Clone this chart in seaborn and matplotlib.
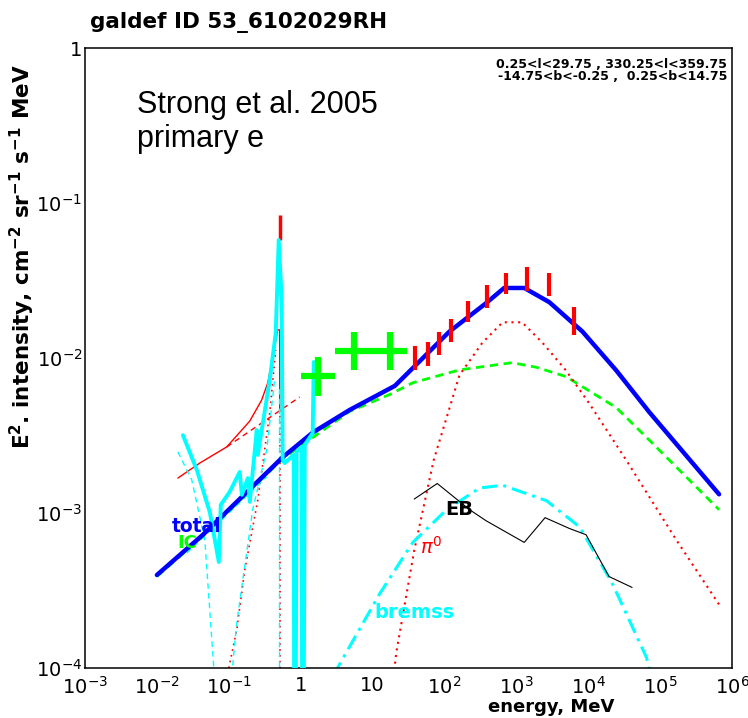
import matplotlib
matplotlib.use("Agg")
import matplotlib.pyplot as plt
import seaborn as sns
from matplotlib.ticker import FixedLocator, LogLocator, NullFormatter

# ---- model curves (energy in MeV, E^2 intensity) ----
total_e = [0.01, 0.0437, 0.562, 1.48, 4.79, 20.4, 36.3, 117, 380, 676, 1290, 2880, 8320, 24500, 70800, 661000]
total_i = [3.98e-4, 7.24e-4, 2.29e-3, 3.31e-3, 4.62e-3, 6.61e-3, 8.61e-3, 0.0148, 0.0226, 0.0283,
           0.0283, 0.0229, 0.0148, 8.32e-3, 4.47e-3, 1.32e-3]

ic_e = [0.01, 0.0437, 0.562, 4.79, 17.4, 36.3, 162, 871, 1905, 4900, 24500, 70800, 661000]
ic_i = [3.89e-4, 7.08e-4, 2.24e-3, 4.52e-3, 5.82e-3, 6.92e-3, 8.38e-3, 9.33e-3, 8.71e-3, 7.59e-3,
        4.79e-3, 2.95e-3, 1.05e-3]

pi0_e = [19.1, 21.4, 38.0, 70.8, 162, 339, 646, 1202, 2291, 4898, 10233, 33884, 165959, 660693]
pi0_i = [7.94e-5, 1.26e-4, 5.75e-4, 2.19e-3, 7.76e-3, 0.0126, 0.0170, 0.0170, 0.0126, 8.32e-3,
         5.13e-3, 2.19e-3, 6.76e-4, 2.57e-4]

bremss_e = [2.82, 12.6, 36.3, 107, 309, 646, 2630, 7590, 21380, 64570, 74130]
bremss_i = [8.91e-5, 3.02e-4, 6.46e-4, 1.05e-3, 1.45e-3, 1.51e-3, 1.20e-3, 8.13e-4, 3.55e-4, 1.17e-4, 8.91e-5]

eb_e = [38.0, 79.4, 224, 380, 1288, 2512, 5495, 9333, 19498, 40738]
eb_i = [1.23e-3, 1.55e-3, 1.05e-3, 8.91e-4, 6.46e-4, 9.33e-4, 7.94e-4, 7.24e-4, 3.89e-4, 3.31e-4]

# ---- low energy (positron / line) components ----
spi_e = [0.0230, 0.0360, 0.0545, 0.0727, 0.0774, 0.103, 0.142, 0.152, 0.184, 0.196, 0.245, 0.253,
         0.371, 0.450, 0.495, 0.545, 0.562, 0.599, 0.800, 0.825, 0.880, 1.03, 1.066, 1.14, 1.47, 1.52]
spi_i = [3.18e-3, 1.89e-3, 1.01e-3, 4.83e-4, 1.13e-3, 1.37e-3, 1.84e-3, 1.31e-3, 1.68e-3, 1.18e-3,
         3.43e-3, 2.37e-3, 7.21e-3, 0.0145, 0.0577, 0.0237, 2.20e-3, 2.10e-3, 2.37e-3, 1e-6,
         2.48e-3, 2.67e-3, 1e-6, 2.75e-3, 3.28e-3, 9.42e-3]

line_e = [0.0196, 0.0395, 0.0938, 0.196, 0.287, 0.348, 0.408, 0.480, 0.511, 0.511]
line_i = [1.68e-3, 2.10e-3, 2.67e-3, 3.92e-3, 5.36e-3, 6.90e-3, 0.0100, 0.0152, 0.0152, 4.62e-3]
line_dash_e = [0.0938, 0.968]
line_dash_i = [2.67e-3, 5.60e-3]
line_dot_e = [0.100, 0.129, 0.167, 0.253, 0.371, 0.45]
line_dot_i = [1e-4, 1.76e-4, 4.29e-4, 1.21e-3, 4.42e-3, 0.0113]
line_dot2_e = [0.511, 0.511]
line_dot2_i = [5e-5, 4.6e-3]

cyan_a_e = [0.0196, 0.0306, 0.0464, 0.0619, 0.066]
cyan_a_i = [2.48e-3, 1.63e-3, 6.70e-4, 1e-4, 4.5e-5]
cyan_b_e = [0.110, 0.129, 0.215, 0.337, 0.435]
cyan_b_i = [9e-5, 1.95e-4, 1.05e-3, 2.55e-3, 7.21e-3]
cyan_c_e = [0.50, 0.50]
cyan_c_i = [5e-5, 6.5e-3]
cyan_d_e = [0.0261, 0.337]
cyan_d_i = [5.52e-4, 1.71e-3]

# ---- data points ----
egret_e = [38.7, 59.2, 83.7, 122, 212, 387, 707, 1414, 2828, 6325]
egret_lo = [8.32e-3, 8.91e-3, 0.0105, 0.0126, 0.0170, 0.0209, 0.0257, 0.0269, 0.0251, 0.0141]
egret_hi = [0.0120, 0.0126, 0.0148, 0.0178, 0.0234, 0.0295, 0.0355, 0.0389, 0.0355, 0.0214]

line511_e = [0.511]
line511_lo = [0.0577]
line511_hi = [0.0837]

comptel_e = [1.73, 5.48, 17.3]
comptel_emin = [1, 3, 10]
comptel_emax = [3, 10, 30]
comptel_i = [7.65e-3, 0.0111, 0.0111]
comptel_lo = [5.69e-3, 8.32e-3, 8.32e-3]
comptel_hi = [0.0102, 0.0148, 0.0148]

x_ticks = [1e-3, 1e-2, 1e-1, 1, 10, 1e2, 1e3, 1e4, 1e5, 1e6]
x_labels = ['$10^{-3}$', '$10^{-2}$', '$10^{-1}$', '1', '10', '$10^{2}$', '$10^{3}$', '$10^{4}$', '$10^{5}$', '$10^{6}$']
y_ticks = [1e-4, 1e-3, 1e-2, 1e-1, 1]
y_labels = ['$10^{-4}$', '$10^{-3}$', '$10^{-2}$', '$10^{-1}$', '1']

BLUE = '#0000ff'
GREEN = '#00ff00'
RED = '#ff0000'
CYAN = '#00ffff'


def line(ax, x, y, **kw):
    sns.lineplot(x=x, y=y, ax=ax, sort=False, estimator=None, **kw)


sns.set_style("white")
plt.rcParams['font.family'] = ['DejaVu Sans']
plt.rcParams['mathtext.fontset'] = 'dejavusans'
plt.rcParams['text.color'] = 'black'
plt.rcParams['xtick.color'] = 'black'
plt.rcParams['ytick.color'] = 'black'

fig = plt.figure(figsize=(7.48, 7.18), dpi=100)
ax = fig.add_axes([85 / 748, 50 / 718, 647 / 748, 620 / 718])
ax.set_xscale('log')
ax.set_yscale('log')

# low energy line components
line(ax, line_e, line_i, color=RED, lw=1.0, zorder=2)
line(ax, line_dash_e, line_dash_i, color=RED, lw=1.0, linestyle=(0, (4, 3)), zorder=2)
line(ax, line_dot_e, line_dot_i, color=RED, lw=1.2, linestyle=(0, (1, 2.5)), zorder=2)
line(ax, line_dot2_e, line_dot2_i, color=RED, lw=1.2, linestyle=(0, (1, 2.5)), zorder=2)
for cx, cy in [(cyan_a_e, cyan_a_i), (cyan_b_e, cyan_b_i), (cyan_c_e, cyan_c_i), (cyan_d_e, cyan_d_i)]:
    line(ax, cx, cy, color=CYAN, lw=1.0, linestyle=(0, (4, 3)), zorder=2)

# model components
line(ax, ic_e, ic_i, color=GREEN, lw=2.0, linestyle=(0, (3, 2)), zorder=2)
line(ax, pi0_e, pi0_i, color=RED, lw=1.5, linestyle=(0, (1, 2.2)), zorder=2)
line(ax, bremss_e, bremss_i, color=CYAN, lw=2.2, linestyle=(0, (5, 2, 1, 2)), zorder=2)
line(ax, eb_e, eb_i, color='black', lw=0.8, zorder=2)
line(ax, total_e, total_i, color=BLUE, lw=3.2, zorder=3)
line(ax, spi_e, spi_i, color=CYAN, lw=2.8, zorder=4)

# data
ax.vlines(line511_e, line511_lo, line511_hi, color=RED, lw=2.5, zorder=3)
ax.vlines(egret_e, egret_lo, egret_hi, color=RED, lw=3.0, zorder=5)
ax.vlines(comptel_e, comptel_lo, comptel_hi, color=GREEN, lw=4.5, zorder=5)
ax.hlines(comptel_i, comptel_emin, comptel_emax, color=GREEN, lw=4.5, zorder=5)

ax.set_xlim(1e-3, 1e6)
ax.set_ylim(1e-4, 1)
ax.xaxis.set_major_locator(FixedLocator(x_ticks))
ax.set_xticklabels(x_labels)
ax.yaxis.set_major_locator(FixedLocator(y_ticks))
ax.set_yticklabels(y_labels)
ax.xaxis.set_minor_locator(LogLocator(base=10, subs=range(2, 10), numticks=20))
ax.yaxis.set_minor_locator(LogLocator(base=10, subs=range(2, 10), numticks=20))
ax.xaxis.set_minor_formatter(NullFormatter())
ax.yaxis.set_minor_formatter(NullFormatter())
ax.tick_params(which='both', direction='in', top=False, right=False, width=1.0, color='black',
               labelsize=14, labelcolor='black')
ax.tick_params(which='major', length=13)
ax.tick_params(which='minor', length=6.5)
ax.tick_params(axis='x', pad=6)
ax.tick_params(axis='y', pad=2)
for s in ax.spines.values():
    s.set_color('black')
    s.set_linewidth(1.1)
    s.set_visible(True)

# labels in plot
ax.text(0.158, 0.202, 'IC', color=GREEN, fontsize=13, fontweight='bold', ha='center', va='center',
        transform=ax.transAxes, zorder=3)
ax.text(0.172, 0.228, 'total', color=BLUE, fontsize=13.5, fontweight='bold', ha='center', va='center',
        transform=ax.transAxes, zorder=6)
ax.text(0.578, 0.255, 'EB', color='black', fontsize=14, fontweight='bold', ha='center', va='center',
        transform=ax.transAxes, zorder=6)
ax.text(0.535, 0.195, r'$\pi^{0}$', color=RED, fontsize=14, ha='center', va='center',
        transform=ax.transAxes, zorder=6)
ax.text(0.509, 0.090, 'bremss', color=CYAN, fontsize=14, fontweight='bold', ha='center', va='center',
        transform=ax.transAxes, zorder=6)
ax.text(0.0804, 0.895, 'Strong et al. 2005', fontsize=22, family='Liberation Sans', ha='left',
        va='baseline', transform=ax.transAxes)
ax.text(0.0804, 0.840, 'primary e', fontsize=22, family='Liberation Sans', ha='left',
        va='baseline', transform=ax.transAxes)

fig.text(90 / 748, 1 - 28 / 718, 'galdef ID 53_6102029RH', fontsize=15.5, fontweight='bold',
         ha='left', va='baseline')
fig.text(727 / 748, 1 - 65 / 718, '0.25<l<29.75 , 330.25<l<359.75', fontsize=9, fontweight='bold',
         ha='right', va='center')
fig.text(727 / 748, 1 - 77 / 718, '-14.75<b<-0.25 ,  0.25<b<14.75', fontsize=9, fontweight='bold',
         ha='right', va='center')
fig.text(22 / 748, 1 - 257 / 718,
         r'E$^{\mathbf{2}}$. intensity, cm$^{\mathbf{-2}}$ sr$^{\mathbf{-1}}$ s$^{\mathbf{-1}}$ MeV',
         fontsize=15.5, fontweight='bold', rotation=90, ha='center', va='center')
fig.text(551 / 748, 1 - 707 / 718, 'energy, MeV', fontsize=13, fontweight='bold', ha='center', va='center')

fig.savefig('out.png', dpi=100)
